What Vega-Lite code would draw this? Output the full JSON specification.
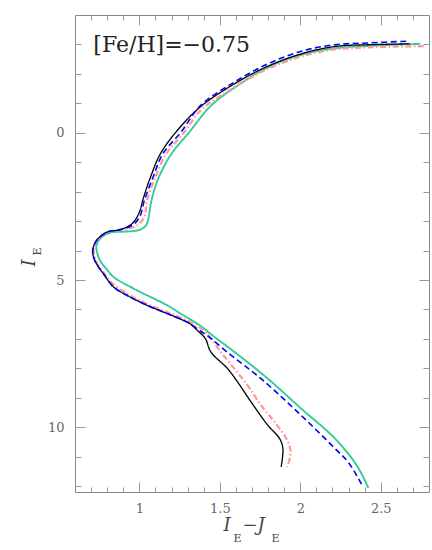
{
  "$schema": "https://vega.github.io/schema/vega-lite/v6.json",
  "width": 354,
  "height": 477,
  "autosize": {"type": "none"},
  "padding": {"left": 75, "top": 15, "right": 3, "bottom": 58},
  "background": "white",
  "config": {
    "view": {"stroke": "#888888", "strokeWidth": 1},
    "axis": {
      "domain": false,
      "grid": false,
      "labelFont": "DejaVu Serif",
      "labelFontSize": 13,
      "labelColor": "#666666",
      "tickColor": "#999999",
      "tickWidth": 1,
      "titleFont": "DejaVu Serif",
      "titleColor": "#444444",
      "titleFontWeight": "normal",
      "format": ".1~f"
    }
  },
  "datasets": {
    "curves": [
      {"s": "M3", "x": 2.746, "y": -3.02}, {"s": "M3", "x": 2.423, "y": -2.95}, {"s": "M3", "x": 2.215, "y": -2.87}, {"s": "M3", "x": 2.006, "y": -2.65}, {"s": "M3", "x": 1.798, "y": -2.22}, {"s": "M3", "x": 1.61, "y": -1.6}, {"s": "M3", "x": 1.445, "y": -0.92}, {"s": "M3", "x": 1.31, "y": -0.02}, {"s": "M3", "x": 1.2, "y": 0.71}, {"s": "M3", "x": 1.121, "y": 1.51}, {"s": "M3", "x": 1.075, "y": 2.3}, {"s": "M3", "x": 1.058, "y": 2.86}, {"s": "M3", "x": 1.044, "y": 3.12}, {"s": "M3", "x": 1.02, "y": 3.25}, {"s": "M3", "x": 0.985, "y": 3.32}, {"s": "M3", "x": 0.9, "y": 3.36}, {"s": "M3", "x": 0.82, "y": 3.39}, {"s": "M3", "x": 0.765, "y": 3.55}, {"s": "M3", "x": 0.738, "y": 3.75}, {"s": "M3", "x": 0.733, "y": 3.94}, {"s": "M3", "x": 0.756, "y": 4.34}, {"s": "M3", "x": 0.795, "y": 4.62}, {"s": "M3", "x": 0.84, "y": 4.9}, {"s": "M3", "x": 0.964, "y": 5.29}, {"s": "M3", "x": 1.173, "y": 5.86}, {"s": "M3", "x": 1.256, "y": 6.14}, {"s": "M3", "x": 1.381, "y": 6.56}, {"s": "M3", "x": 1.454, "y": 6.88}, {"s": "M3", "x": 1.59, "y": 7.44}, {"s": "M3", "x": 1.798, "y": 8.35}, {"s": "M3", "x": 2.006, "y": 9.37}, {"s": "M3", "x": 2.215, "y": 10.38}, {"s": "M3", "x": 2.35, "y": 11.29}, {"s": "M3", "x": 2.423, "y": 12.06},
      {"s": "M4", "x": 2.767, "y": -2.94}, {"s": "M4", "x": 2.423, "y": -2.9}, {"s": "M4", "x": 2.215, "y": -2.83}, {"s": "M4", "x": 2.006, "y": -2.59}, {"s": "M4", "x": 1.798, "y": -2.17}, {"s": "M4", "x": 1.59, "y": -1.55}, {"s": "M4", "x": 1.381, "y": -0.76}, {"s": "M4", "x": 1.277, "y": 0.0}, {"s": "M4", "x": 1.167, "y": 0.71}, {"s": "M4", "x": 1.1, "y": 1.51}, {"s": "M4", "x": 1.048, "y": 2.3}, {"s": "M4", "x": 1.031, "y": 2.86}, {"s": "M4", "x": 0.985, "y": 3.15}, {"s": "M4", "x": 0.93, "y": 3.26}, {"s": "M4", "x": 0.86, "y": 3.32}, {"s": "M4", "x": 0.8, "y": 3.38}, {"s": "M4", "x": 0.745, "y": 3.6}, {"s": "M4", "x": 0.715, "y": 3.95}, {"s": "M4", "x": 0.735, "y": 4.4}, {"s": "M4", "x": 0.785, "y": 4.8}, {"s": "M4", "x": 0.83, "y": 5.1}, {"s": "M4", "x": 0.935, "y": 5.5}, {"s": "M4", "x": 1.06, "y": 5.84}, {"s": "M4", "x": 1.185, "y": 6.12}, {"s": "M4", "x": 1.3, "y": 6.38}, {"s": "M4", "x": 1.381, "y": 6.64}, {"s": "M4", "x": 1.44, "y": 6.95}, {"s": "M4", "x": 1.506, "y": 7.44}, {"s": "M4", "x": 1.59, "y": 8.01}, {"s": "M4", "x": 1.673, "y": 8.58}, {"s": "M4", "x": 1.756, "y": 9.25}, {"s": "M4", "x": 1.84, "y": 9.82}, {"s": "M4", "x": 1.913, "y": 10.38}, {"s": "M4", "x": 1.94, "y": 10.83}, {"s": "M4", "x": 1.919, "y": 11.35},
      {"s": "M1", "x": 2.68, "y": -3.02}, {"s": "M1", "x": 2.423, "y": -2.99}, {"s": "M1", "x": 2.215, "y": -2.93}, {"s": "M1", "x": 2.006, "y": -2.68}, {"s": "M1", "x": 1.798, "y": -2.26}, {"s": "M1", "x": 1.59, "y": -1.66}, {"s": "M1", "x": 1.381, "y": -0.89}, {"s": "M1", "x": 1.236, "y": -0.08}, {"s": "M1", "x": 1.131, "y": 0.71}, {"s": "M1", "x": 1.069, "y": 1.51}, {"s": "M1", "x": 1.027, "y": 2.18}, {"s": "M1", "x": 0.996, "y": 2.75}, {"s": "M1", "x": 0.954, "y": 3.09}, {"s": "M1", "x": 0.88, "y": 3.29}, {"s": "M1", "x": 0.8, "y": 3.37}, {"s": "M1", "x": 0.735, "y": 3.65}, {"s": "M1", "x": 0.71, "y": 3.99}, {"s": "M1", "x": 0.72, "y": 4.3}, {"s": "M1", "x": 0.745, "y": 4.55}, {"s": "M1", "x": 0.777, "y": 4.79}, {"s": "M1", "x": 0.84, "y": 5.24}, {"s": "M1", "x": 0.923, "y": 5.52}, {"s": "M1", "x": 1.048, "y": 5.86}, {"s": "M1", "x": 1.173, "y": 6.14}, {"s": "M1", "x": 1.256, "y": 6.33}, {"s": "M1", "x": 1.31, "y": 6.47}, {"s": "M1", "x": 1.36, "y": 6.71}, {"s": "M1", "x": 1.41, "y": 6.99}, {"s": "M1", "x": 1.444, "y": 7.44}, {"s": "M1", "x": 1.548, "y": 8.01}, {"s": "M1", "x": 1.61, "y": 8.46}, {"s": "M1", "x": 1.694, "y": 9.14}, {"s": "M1", "x": 1.798, "y": 9.93}, {"s": "M1", "x": 1.871, "y": 10.38}, {"s": "M1", "x": 1.892, "y": 10.72}, {"s": "M1", "x": 1.881, "y": 11.35},
      {"s": "M2", "x": 2.658, "y": -3.11}, {"s": "M2", "x": 2.423, "y": -3.05}, {"s": "M2", "x": 2.215, "y": -2.99}, {"s": "M2", "x": 2.006, "y": -2.77}, {"s": "M2", "x": 1.798, "y": -2.34}, {"s": "M2", "x": 1.59, "y": -1.72}, {"s": "M2", "x": 1.381, "y": -0.93}, {"s": "M2", "x": 1.256, "y": 0.0}, {"s": "M2", "x": 1.146, "y": 0.71}, {"s": "M2", "x": 1.085, "y": 1.51}, {"s": "M2", "x": 1.031, "y": 2.3}, {"s": "M2", "x": 1.002, "y": 2.86}, {"s": "M2", "x": 0.954, "y": 3.15}, {"s": "M2", "x": 0.88, "y": 3.29}, {"s": "M2", "x": 0.8, "y": 3.37}, {"s": "M2", "x": 0.735, "y": 3.65}, {"s": "M2", "x": 0.71, "y": 3.99}, {"s": "M2", "x": 0.72, "y": 4.3}, {"s": "M2", "x": 0.745, "y": 4.55}, {"s": "M2", "x": 0.777, "y": 4.79}, {"s": "M2", "x": 0.84, "y": 5.24}, {"s": "M2", "x": 0.923, "y": 5.52}, {"s": "M2", "x": 1.048, "y": 5.86}, {"s": "M2", "x": 1.173, "y": 6.14}, {"s": "M2", "x": 1.256, "y": 6.33}, {"s": "M2", "x": 1.31, "y": 6.47}, {"s": "M2", "x": 1.38, "y": 6.74}, {"s": "M2", "x": 1.423, "y": 6.89}, {"s": "M2", "x": 1.548, "y": 7.46}, {"s": "M2", "x": 1.756, "y": 8.35}, {"s": "M2", "x": 2.006, "y": 9.6}, {"s": "M2", "x": 2.215, "y": 10.72}, {"s": "M2", "x": 2.3, "y": 11.2}, {"s": "M2", "x": 2.39, "y": 12.03}
    ],
    "note": [{"x": 0.714, "y": -2.735, "label": "[Fe/H]=−0.75"}]
  },
  "data": {"name": "curves"},
  "layer": [
    {
      "mark": {"type": "line", "strokeJoin": "round", "interpolate": "catmull-rom"},
      "encoding": {
        "x": {
          "field": "x", "type": "quantitative",
          "scale": {"domain": [0.6, 2.8], "nice": false, "zero": false},
          "axis": {"orient": "bottom", "values": [1, 1.5, 2, 2.5], "tickSize": -10, "labelPadding": 20,
            "title": "I", "titleFontStyle": "italic", "titleFontSize": 18, "titleX": 148, "titleY": 38,
            "titleAlign": "left", "titleBaseline": "alphabetic", "titleAngle": 0}
        },
        "y": {
          "field": "y", "type": "quantitative",
          "scale": {"domain": [-4, 12.2], "reverse": true, "nice": false, "zero": false},
          "axis": {"orient": "left", "values": [0, 5, 10], "tickSize": -10, "labelPadding": 21,
            "title": "I", "titleFontStyle": "italic", "titleFontSize": 18, "titleX": -41, "titleY": 251,
            "titleAlign": "left", "titleBaseline": "alphabetic", "titleAngle": 270}
        },
        "color": {"field": "s", "type": "nominal", "legend": null,
          "scale": {"domain": ["M1", "M2", "M3", "M4"], "range": ["#000000", "#0000ff", "#33cc99", "#ff9999"]}},
        "strokeDash": {"field": "s", "type": "nominal", "legend": null,
          "scale": {"domain": ["M1", "M2", "M3", "M4"], "range": [[1, 0], [6, 3.5], [1, 0], [6, 2.5, 1.5, 2.5]]}},
        "strokeWidth": {"field": "s", "type": "nominal", "legend": null,
          "scale": {"domain": ["M1", "M2", "M3", "M4"], "range": [1.3, 2.2, 1.15, 1.6]}},
        "order": {"value": null}
      }
    },
    {
      "data": {"name": "note"},
      "mark": {"type": "text", "font": "DejaVu Serif", "fontSize": 22, "align": "left", "baseline": "alphabetic", "color": "#222222"},
      "encoding": {
        "x": {
          "field": "x", "type": "quantitative",
          "scale": {"domain": [0.6, 2.8], "nice": false, "zero": false},
          "axis": {"orient": "bottom", "values": [0.7, 0.8, 0.9, 1.1, 1.2, 1.3, 1.4, 1.6, 1.7, 1.8, 1.9, 2.1, 2.2, 2.3, 2.4, 2.6, 2.7],
            "tickSize": -5, "labels": false,
            "title": "E", "titleFontSize": 11, "titleX": 158, "titleY": 49,
            "titleAlign": "left", "titleBaseline": "alphabetic", "titleAngle": 0}
        },
        "y": {
          "field": "y", "type": "quantitative",
          "scale": {"domain": [-4, 12.2], "reverse": true, "nice": false, "zero": false},
          "axis": {"orient": "left", "values": [-3, -2, -1, 1, 2, 3, 4, 6, 7, 8, 9, 11, 12],
            "tickSize": -6, "labels": false,
            "title": "E", "titleFontSize": 11, "titleX": -35, "titleY": 240,
            "titleAlign": "left", "titleBaseline": "alphabetic", "titleAngle": 270}
        },
        "text": {"field": "label"}
      }
    },
    {
      "mark": {"type": "point", "opacity": 0},
      "encoding": {
        "x": {
          "field": "x", "type": "quantitative",
          "scale": {"domain": [0.6, 2.8], "nice": false, "zero": false},
          "axis": {"orient": "top", "values": [1, 1.5, 2, 2.5], "tickSize": -10, "labels": false,
            "title": "−J", "titleFontStyle": "italic", "titleFontSize": 18, "titleX": 167, "titleY": 515,
            "titleAlign": "left", "titleBaseline": "alphabetic", "titleAngle": 0}
        },
        "y": {
          "field": "y", "type": "quantitative",
          "scale": {"domain": [-4, 12.2], "reverse": true, "nice": false, "zero": false},
          "axis": {"orient": "right", "values": [0, 5, 10], "tickSize": -10, "labels": false, "title": null}
        }
      }
    },
    {
      "mark": {"type": "point", "opacity": 0},
      "encoding": {
        "x": {
          "field": "x", "type": "quantitative",
          "scale": {"domain": [0.6, 2.8], "nice": false, "zero": false},
          "axis": {"orient": "top", "values": [0.7, 0.8, 0.9, 1.1, 1.2, 1.3, 1.4, 1.6, 1.7, 1.8, 1.9, 2.1, 2.2, 2.3, 2.4, 2.6, 2.7],
            "tickSize": -5, "labels": false,
            "title": "E", "titleFontSize": 11, "titleX": 196, "titleY": 526,
            "titleAlign": "left", "titleBaseline": "alphabetic", "titleAngle": 0}
        },
        "y": {
          "field": "y", "type": "quantitative",
          "scale": {"domain": [-4, 12.2], "reverse": true, "nice": false, "zero": false},
          "axis": {"orient": "right", "values": [-3, -2, -1, 1, 2, 3, 4, 6, 7, 8, 9, 11, 12],
            "tickSize": -6, "labels": false, "title": null}
        }
      }
    }
  ],
  "resolve": {"axis": {"x": "independent", "y": "independent"}}
}
